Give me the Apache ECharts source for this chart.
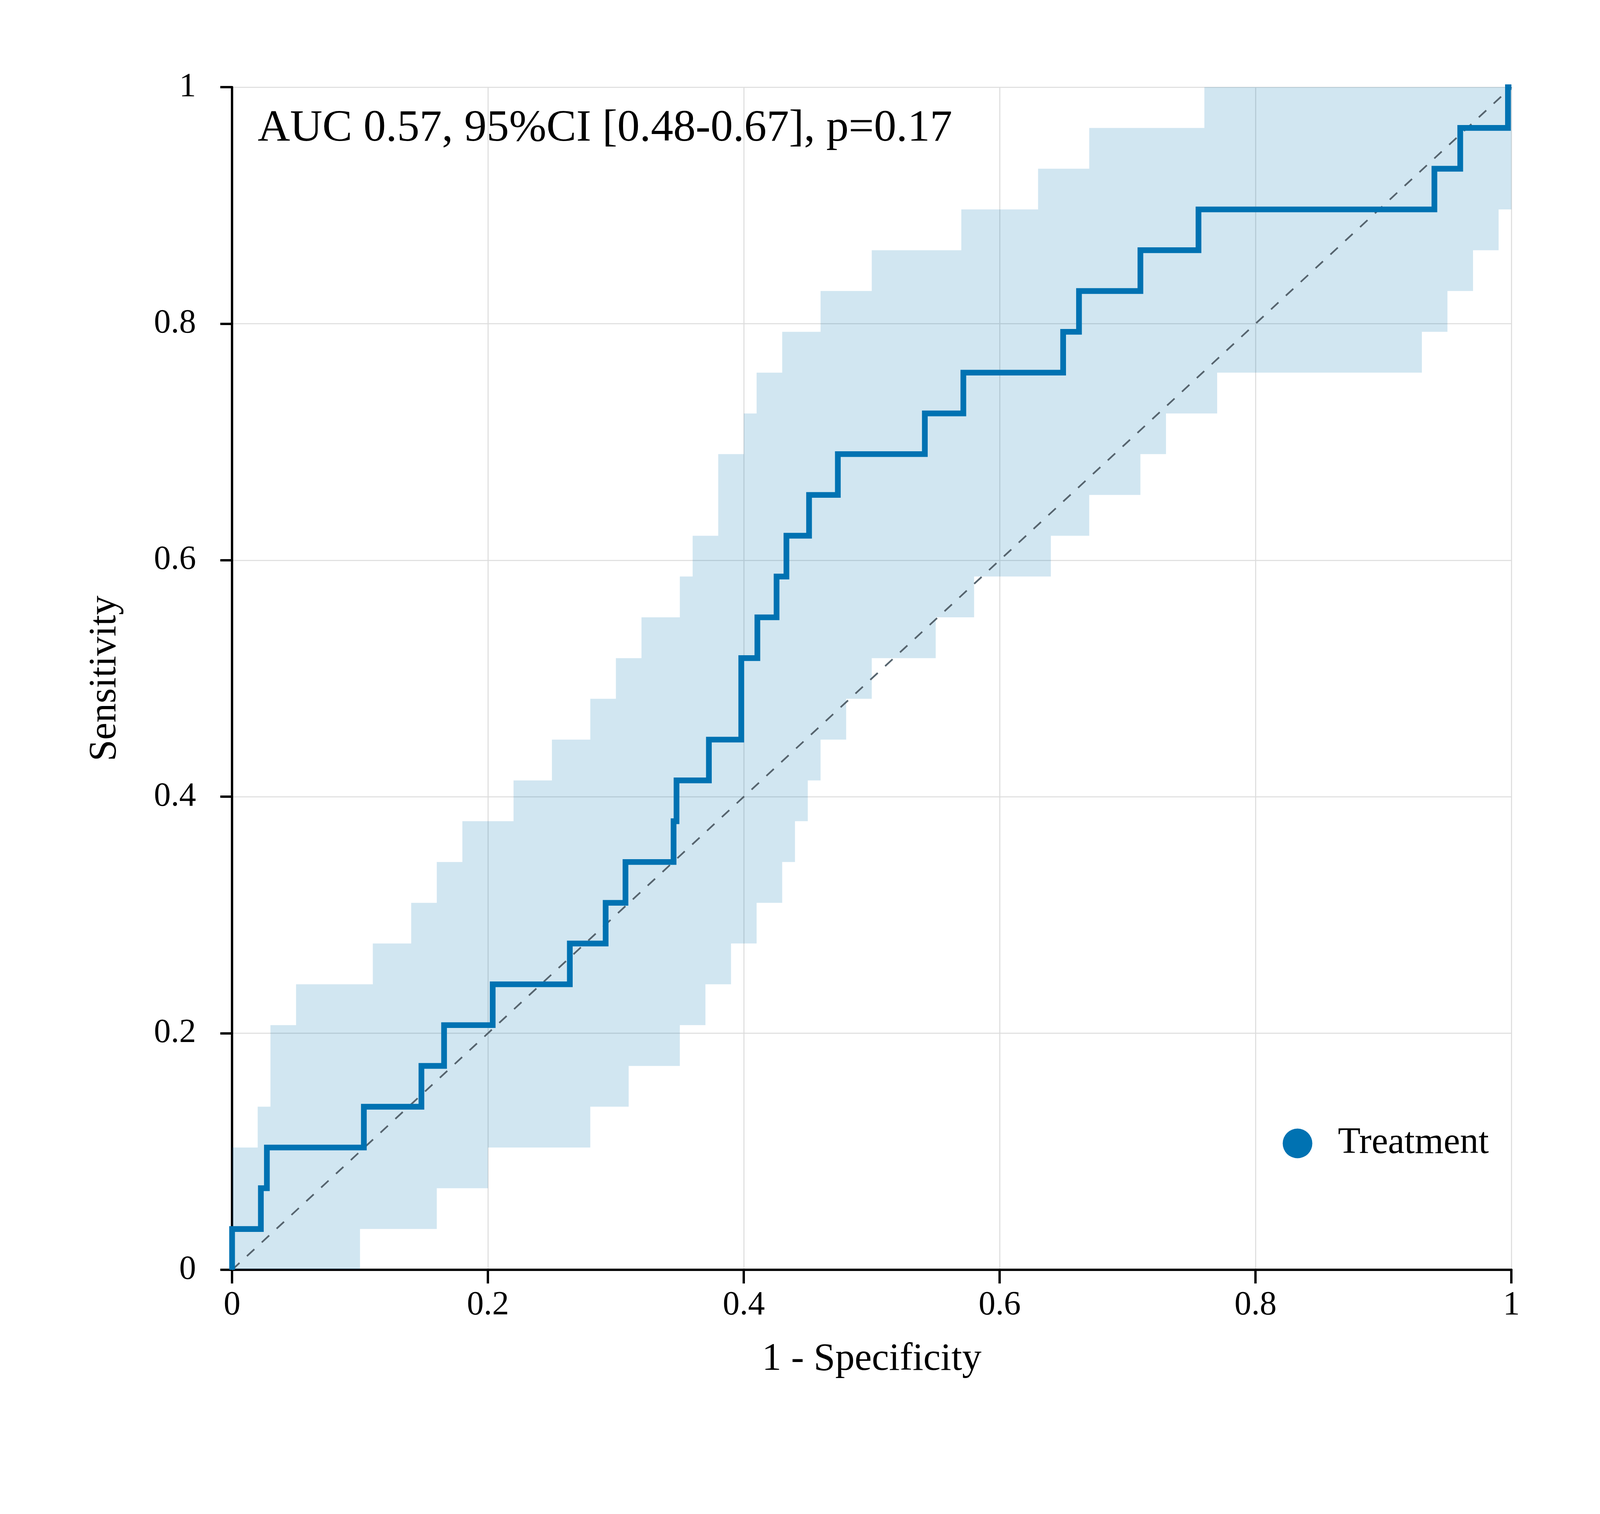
<!DOCTYPE html>
<html>
<head>
<meta charset="utf-8">
<script src="https://cdn.jsdelivr.net/npm/echarts@6/dist/echarts.min.js"></script>
<style>
  html, body { margin: 0; padding: 0; background: #fff; overflow: hidden; }
  #rocChart { width: 100vw; height: 100vh; }
</style>
</head>
<body>
<div id="rocChart"></div>
<script>
var myChart = echarts.init(document.getElementById('rocChart'));

// ROC curve points (1 - specificity, sensitivity), drawn as a step line
var rocFpr = [0, 0, 0.0225, 0.0272, 0.103, 0.148, 0.1657, 0.2037, 0.264, 0.292, 0.3075,
  0.3451, 0.3474, 0.3727, 0.398, 0.4106, 0.4256, 0.4333, 0.451, 0.4735, 0.5415,
  0.5716, 0.6496, 0.662, 0.710, 0.7554, 0.9398, 0.960, 0.9973, 1];
var rocTpr = [0, 0.0345, 0.0690, 0.1034, 0.1379, 0.1724, 0.2069, 0.2414, 0.2759, 0.3103, 0.3448,
  0.3793, 0.4138, 0.4483, 0.5172, 0.5517, 0.5862, 0.6207, 0.6552, 0.6897, 0.7241,
  0.7586, 0.7931, 0.8276, 0.8621, 0.8966, 0.9310, 0.9655, 1, 1];

// 95% CI band of sensitivity: each level holds from its x until the next x
var ciUpperX = [0, 0.02, 0.03, 0.05, 0.11, 0.14, 0.16, 0.18, 0.22, 0.25, 0.28, 0.30, 0.32,
  0.35, 0.36, 0.38, 0.40, 0.41, 0.43, 0.46, 0.50, 0.57, 0.63, 0.67, 0.76];
var ciUpperSe = [0.1034, 0.1379, 0.2069, 0.2414, 0.2759, 0.3103, 0.3448, 0.3793, 0.4138, 0.4483,
  0.4828, 0.5172, 0.5517, 0.5862, 0.6207, 0.6897, 0.7241, 0.7586, 0.7931, 0.8276, 0.8621,
  0.8966, 0.9310, 0.9655, 1];
var ciLowerX = [0, 0.10, 0.16, 0.20, 0.28, 0.31, 0.35, 0.37, 0.39, 0.41, 0.43, 0.44, 0.45,
  0.46, 0.48, 0.50, 0.55, 0.58, 0.64, 0.67, 0.71, 0.73, 0.77, 0.93, 0.95, 0.97, 0.99];
var ciLowerSe = [0, 0.0345, 0.0690, 0.1034, 0.1379, 0.1724, 0.2069, 0.2414, 0.2759, 0.3103,
  0.3448, 0.3793, 0.4138, 0.4483, 0.4828, 0.5172, 0.5517, 0.5862, 0.6207, 0.6552, 0.6897,
  0.7241, 0.7586, 0.7931, 0.8276, 0.8621, 0.8966];

// chance diagonal
var chanceFpr = [0, 1];
var chanceTpr = [0, 1];

var titleText = 'AUC 0.57, 95%CI [0.48-0.67], p=0.17';
var seriesName = 'Treatment';

var fontFam = 'Liberation Serif';
var lineColor = '#0072B2';

// layout measured on a 4750 x 3875 page; scale to the real viewport
var kx = myChart.getWidth() / 4750;
var ky = myChart.getHeight() / 3875;
var px = function (v) { return v * kx; };
var py = function (v) { return v * ky; };

var zipPoints = function (xs, ys) {
    var res = [];
    for (var i = 0; i < xs.length; i++) {
        res.push([xs[i], ys[i]]);
    }
    return res;
};

var renderBand = function (params, api) {
    var pts = [];
    for (var i = 0; i < ciUpperX.length; i++) {
        var xEnd = i + 1 < ciUpperX.length ? ciUpperX[i + 1] : 1;
        pts.push(api.coord([ciUpperX[i], ciUpperSe[i]]));
        pts.push(api.coord([xEnd, ciUpperSe[i]]));
    }
    for (var j = ciLowerX.length - 1; j >= 0; j--) {
        var xEnd2 = j + 1 < ciLowerX.length ? ciLowerX[j + 1] : 1;
        pts.push(api.coord([xEnd2, ciLowerSe[j]]));
        pts.push(api.coord([ciLowerX[j], ciLowerSe[j]]));
    }
    return {
        type: 'polygon',
        shape: { points: pts },
        style: { fill: 'rgba(0,114,178,0.18)' }
    };
};

var axisCommon = function (tickLen) {
    return {
        type: 'value',
        min: 0,
        max: 1,
        interval: 0.2,
        axisLine: { show: true, lineStyle: { color: '#000', width: px(7) } },
        axisTick: { show: true, inside: false, length: tickLen, lineStyle: { color: '#000', width: px(7) } },
        splitLine: { show: true, lineStyle: { color: '#dcdcdc', width: px(3) } },
        nameLocation: 'middle',
        nameTextStyle: { fontFamily: fontFam, fontSize: px(115), color: '#000' }
    };
};

option = {
    backgroundColor: '#fff',
    animation: false,
    title: {
        text: titleText,
        left: px(760),
        top: py(334) - px(76),
        padding: px(5),
        textStyle: { fontFamily: fontFam, fontSize: px(133), fontWeight: 'normal', color: '#000' }
    },
    legend: {
        left: px(3803),
        top: py(2917) - px(49),
        padding: px(5),
        itemWidth: px(88),
        itemHeight: px(88),
        data: [{ name: seriesName, icon: 'circle', itemStyle: { color: lineColor, borderWidth: 0 } }],
        textStyle: { fontFamily: fontFam, fontSize: px(110), color: '#000', padding: [0, 0, 0, px(70)] }
    },
    grid: { left: px(689), right: px(263), top: py(223), bottom: py(625), containLabel: false },
    xAxis: Object.assign(axisCommon(py(35)), {
        name: '1 - Specificity',
        nameGap: py(180),
        axisLabel: { fontFamily: fontFam, fontSize: px(100), color: '#000', margin: py(48) }
    }),
    yAxis: Object.assign(axisCommon(px(35)), {
        name: 'Sensitivity',
        nameGap: px(320),
        axisLabel: { fontFamily: fontFam, fontSize: px(100), color: '#000', margin: px(107) }
    }),
    series: [
        {
            name: 'CI',
            type: 'custom',
            renderItem: renderBand,
            data: [[0, 0]],
            encode: { x: 0, y: 1 },
            silent: true,
            z: 1
        },
        {
            name: 'chance',
            type: 'line',
            data: zipPoints(chanceFpr, chanceTpr),
            showSymbol: false,
            lineStyle: { color: '#56646e', width: px(5), type: [px(30), px(30)] },
            silent: true,
            z: 2
        },
        {
            name: seriesName,
            type: 'line',
            step: 'end',
            data: zipPoints(rocFpr, rocTpr),
            showSymbol: false,
            itemStyle: { color: lineColor },
            lineStyle: { color: lineColor, width: px(17), join: 'miter', cap: 'butt' },
            z: 3
        }
    ]
};

myChart.setOption(option);
</script>
</body>
</html>
